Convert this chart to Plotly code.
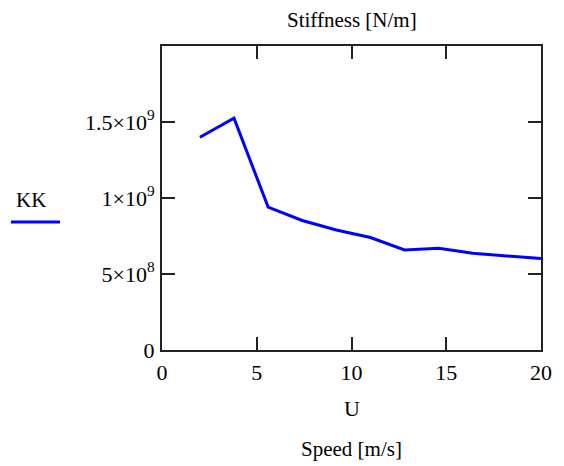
import plotly.graph_objects as go

speed = [2.0, 3.8, 5.6, 7.4, 9.2, 11.0, 12.8, 14.6, 16.4, 18.2, 20.0]
stiffness = [1.40e9, 1.525e9, 0.94e9, 0.852e9, 0.79e9, 0.74e9, 0.658e9, 0.669e9, 0.636e9, 0.618e9, 0.602e9]

x_ticks = [0, 5, 10, 15, 20]
y_ticks = [0, 5e8, 1e9, 1.5e9]
y_labels = ["0", "5\u00d710<sup>8</sup>", "1\u00d710<sup>9</sup>", "1.5\u00d710<sup>9</sup>"]

FONT = "Liberation Serif, Times New Roman, serif"

fig = go.Figure()
fig.add_trace(go.Scatter(x=speed, y=stiffness, mode="lines",
                         line=dict(color="#0000ff", width=3), name="KK",
                         showlegend=False))

axis_common = dict(showgrid=False, zeroline=False, showline=True, linecolor="#222",
                   linewidth=2, ticks="inside", ticklen=13, tickwidth=1.5,
                   tickcolor="#222", mirror="ticks",
                   tickfont=dict(family=FONT, size=22, color="#000"))

fig.update_layout(
    width=564, height=466,
    margin=dict(l=162, r=23, t=46, b=116),
    paper_bgcolor="white", plot_bgcolor="white",
    font=dict(family=FONT, color="#000"),
    xaxis=dict(range=[0, 20], tickvals=x_ticks, ticktext=[str(v) for v in x_ticks],
               ticklabelstandoff=2, **axis_common),
    yaxis=dict(range=[0, 2e9], tickvals=y_ticks, ticktext=y_labels,
               ticklabelstandoff=1, **axis_common),
)

fig.add_annotation(text="Stiffness [N/m]", xref="paper", yref="paper", x=0.5, y=1,
                   yshift=26, showarrow=False, font=dict(family=FONT, size=21),
                   xanchor="center", yanchor="middle")
fig.add_annotation(text="U", xref="paper", yref="paper", x=0.5, y=0,
                   yshift=-58, showarrow=False, font=dict(family=FONT, size=22),
                   xanchor="center", yanchor="middle")
fig.add_annotation(text="Speed [m/s]", xref="paper", yref="paper", x=0.5, y=0,
                   yshift=-99, showarrow=False, font=dict(family=FONT, size=21),
                   xanchor="center", yanchor="middle")

# legend-like label on the left
fig.add_annotation(text="KK", xref="paper", yref="paper",
                   x=(31 - 162) / 379, y=(350 - 200) / 304, showarrow=False,
                   font=dict(family=FONT, size=21), xanchor="center", yanchor="middle")
fig.add_shape(type="line", xref="paper", yref="paper",
              x0=(11 - 162) / 379, x1=(60 - 162) / 379,
              y0=(350 - 222) / 304, y1=(350 - 222) / 304,
              line=dict(color="#0000ff", width=3))

fig.write_html("out.html")
